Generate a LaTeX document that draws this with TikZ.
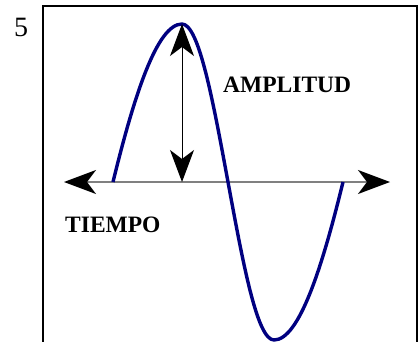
\documentclass[tikz,border=0pt]{standalone}
\usepackage{fontspec}
\setmainfont{Liberation Serif}
\usetikzlibrary{arrows.meta}
\definecolor{wavenavy}{RGB}{0,0,128}
\definecolor{axisgray}{RGB}{128,128,128}
\begin{document}
\begin{tikzpicture}[
  x=1pt, y=-1pt,
  >={Stealth[black, length=32pt, width=24pt, inset=9pt]},
  lbl/.style = {font=\fontsize{23.5}{27}\selectfont\bfseries, inner sep=0pt, anchor=base west},
]

%% ── Page: 1pt = 1px, y downwards ────────────────────────────────────────────
\useasboundingbox (0,0) rectangle (420,342);

%% ── Key y-coordinates ───────────────────────────────────────────────────────
\def\yAx{182}    % time axis
\def\yTop{24}    % crest
\def\yBot{340}   % trough

%% ── Frame (open at the bottom) ──────────────────────────────────────────────
\draw[black, line width=1.3pt] (43,342) -- (43,6) -- (417,6) -- (417,342);
\node[font=\fontsize{28}{32}\selectfont, inner sep=0pt, anchor=base west]
  (five) at (14,37) {5};

%% ── Time axis ───────────────────────────────────────────────────────────────
\coordinate (axisL) at (64,\yAx);
\coordinate (axisR) at (390,\yAx);
\draw[axisgray, line width=1.5pt, <->] (axisL) -- (axisR);

%% ── Wave ────────────────────────────────────────────────────────────────────
\coordinate (start) at (113,\yAx);
\coordinate (crest) at (182,\yTop);
\coordinate (zero)  at (228,\yAx);
\coordinate (trough) at (274,\yBot);
\coordinate (stop)  at (343,\yAx);
\draw[wavenavy, line width=3.4pt]
  (start) .. controls (134,96) and (157,\yTop) .. (crest)
          .. controls (198.7,\yTop) and (212.6,98.5) .. (zero)
          .. controls (243.4,265.5) and (257.3,\yBot) .. (trough)
          .. controls (299,\yBot) and (322,268) .. (stop);

%% ── Amplitude arrow ─────────────────────────────────────────────────────────
\coordinate (foot) at (182,\yAx);
\draw[black, line width=1pt, <->] (crest) -- (foot);

%% ── Labels ──────────────────────────────────────────────────────────────────
\node[lbl] (amp)  at (223,93)  {AMPLITUD};
\node[lbl] (time) at (65,232)  {TIEMPO};

\end{tikzpicture}
\end{document}
